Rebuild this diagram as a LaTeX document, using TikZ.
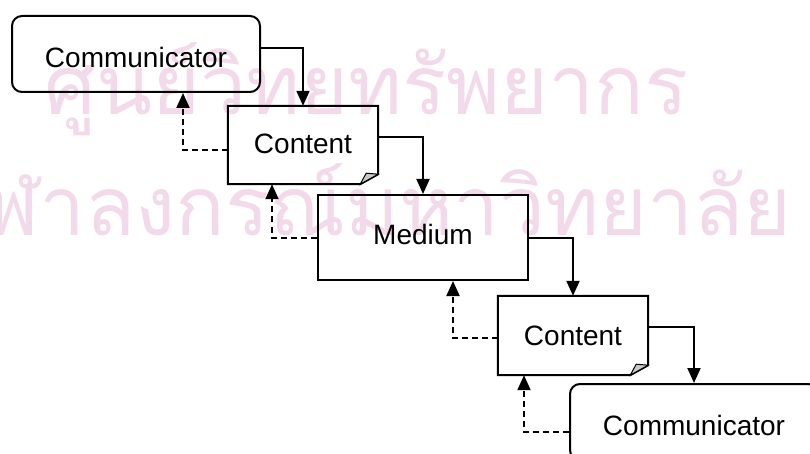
\documentclass[tikz,border=0pt]{standalone}
\usepackage{fontspec}
\setmainfont{Liberation Sans}
\newfontfamily\thaifont[Script=Thai]{Loma}
\usetikzlibrary{arrows.meta}
\definecolor{wmark}{RGB}{243,218,234}
\definecolor{foldgray}{RGB}{200,200,200}

\begin{document}
\begin{tikzpicture}[x=1pt,y=-1pt,
  line join=miter,
  label/.style={font=\fontsize{28}{34}\selectfont, inner sep=0pt, text depth=0pt},
  roundbox/.style={label, draw=black, line width=2pt, rounded corners=10pt,
    minimum width=248pt, minimum height=76pt},
  plainbox/.style={label, draw=black, line width=2pt},
  docbox/.style={label},
  docline/.style={draw=black, line width=2pt},
  fold/.style={draw=black, line width=1pt, fill=foldgray},
  flow/.style={draw=black, line width=2pt, -{Triangle[length=15pt,width=13pt]}},
  back/.style={draw=black, line width=2pt, dash pattern=on 6pt off 4pt,
    -{Triangle[length=15pt,width=13pt]}},
  wm/.style={font=\thaifont\fontsize{82}{82}\selectfont, text=wmark, inner sep=0pt}
]
\useasboundingbox (0,0) rectangle (810,454);

% watermark lettering behind the chart
\node[wm, anchor=base west] (wmA) at (44,115) {ศูนย์วิทยทรัพยากร};
\node[wm, anchor=base east] (wmB) at (792,235) {จุฬาลงกรณ์มหาวิทยาลัย};

% boxes
\node[roundbox, text height=28pt] (comA) at (136,54) {Communicator};
\node[docbox, minimum width=150pt, minimum height=78pt, text height=18pt] (conA) at (303,145) {Content};
\node[plainbox, minimum width=210pt, minimum height=85pt, text height=13pt] (med) at (423,237.5) {Medium};
\node[docbox, minimum width=150pt, minimum height=79pt, text height=19pt] (conB) at (573,335.5) {Content};
\node[roundbox, text height=27pt] (comB) at (694,422) {Communicator};

% document outlines with a folded corner
\foreach \n in {conA,conB}{
  \draw[docline] (\n.south west) -- (\n.north west) -- (\n.north east)
    -- ([yshift=10pt]\n.south east) -- ([xshift=-18pt]\n.south east) -- cycle;
  \draw[fold] ([xshift=-18pt]\n.south east) -- ([xshift=-12pt,yshift=11pt]\n.south east)
    -- ([yshift=10pt]\n.south east) -- cycle;
}

% forward flow
\draw[flow] ([yshift=6pt]comA.east) -| (conA.north);
\draw[flow] ([yshift=8pt]conA.east) -| (med.north);
\draw[flow] (med.east) -| (conB.north);
\draw[flow] ([yshift=8.5pt]conB.east) -| (comB.north);

% feedback
\draw[back] ([yshift=-5.5pt]conA.west) -| ([xshift=47pt]comA.south);
\draw[back] (med.west) -| ([xshift=-31pt]conA.south);
\draw[back] ([yshift=-2.5pt]conB.west) -| ([xshift=30pt]med.south);
\draw[back] ([yshift=-10pt]comB.west) -| ([xshift=-49pt]conB.south);
\end{tikzpicture}
\end{document}
